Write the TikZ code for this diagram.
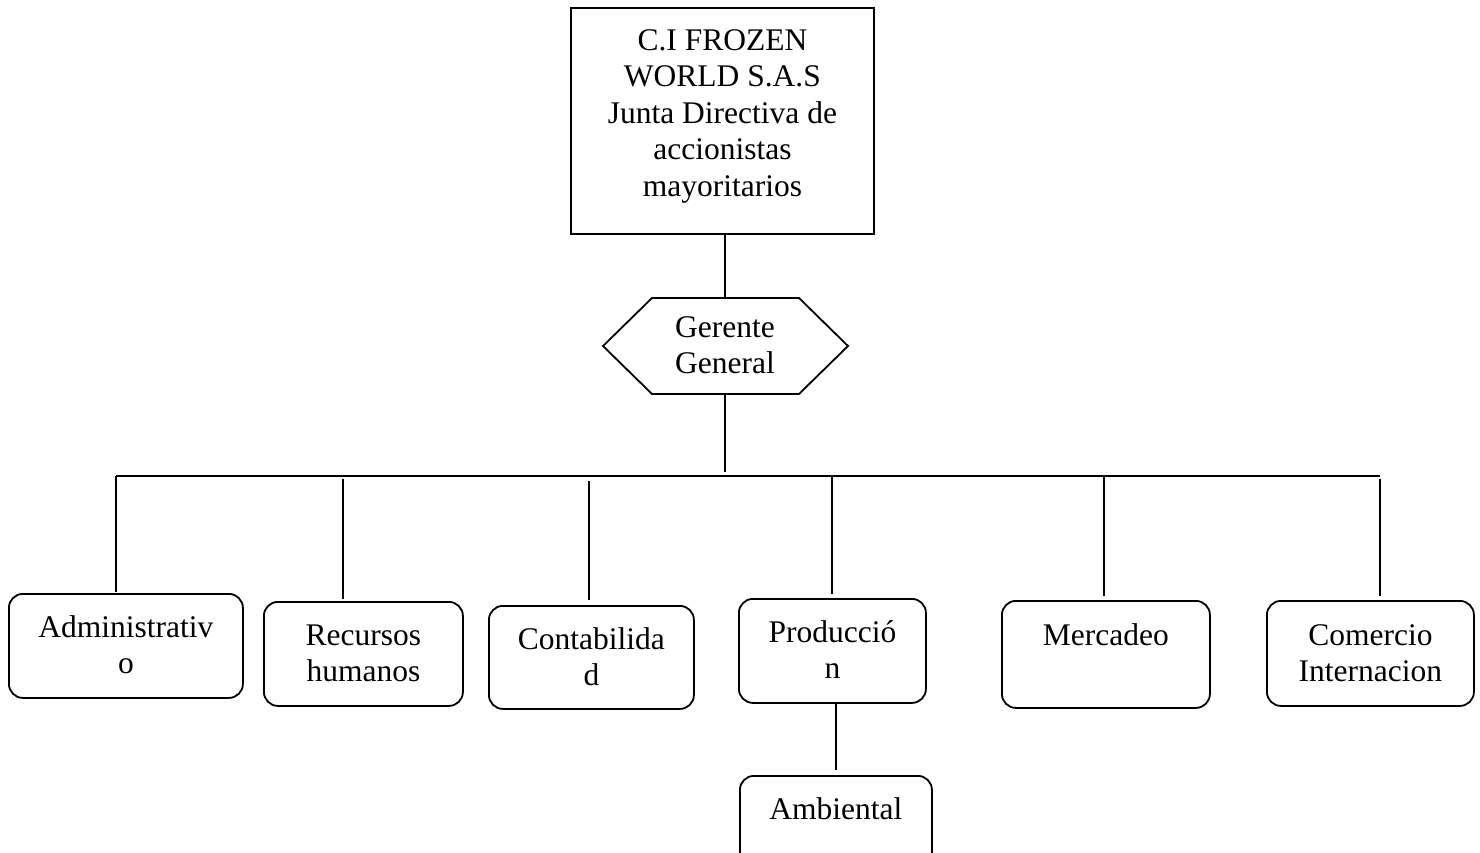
\documentclass[tikz,border=0pt]{standalone}
\usepackage{fontspec}
\setmainfont{Liberation Serif}
\usetikzlibrary{calc}
\newcommand{\tbl}[1]{\begin{tabular}[t]{@{}c@{}}#1\end{tabular}}
\begin{document}
\begin{tikzpicture}[x=1pt,y=-1pt,line width=1.8pt,
  box/.style={draw,rounded corners=14pt,inner sep=0pt,anchor=north west},
  sqbox/.style={draw,inner sep=0pt,anchor=north west},
  lbl/.style={anchor=base,inner sep=0pt,font=\fontsize{31.5}{36.5}\selectfont},
  conn/.style={line width=1.8pt}]
\useasboundingbox (0,0) rectangle (1480,852);
\clip (0,0) rectangle (1480,852);

% top box
\node[sqbox,minimum width=303pt,minimum height=226pt] (top) at (570,7) {};
\node[lbl] (topt) at ($(top.north)+(0,43)$) {\tbl{C.I FROZEN\\WORLD S.A.S\\Junta Directiva de\\accionistas\\mayoritarios}};

% hexagon
\coordinate (hexN) at (725,298);
\coordinate (hexS) at (725,394);
\draw (603,346) -- (652,298) -- (799,298) -- (848,346) -- (799,394) -- (652,394) -- cycle;
\node[lbl] (gg) at ($(hexN)+(0,39)$) {\tbl{Gerente\\General}};

% department boxes
\node[box,minimum width=234pt,minimum height=104pt] (adm) at (8,593) {};
\node[box,minimum width=199pt,minimum height=104pt] (rec) at (263,601) {};
\node[box,minimum width=205pt,minimum height=103pt] (cont) at (488,605) {};
\node[box,minimum width=187pt,minimum height=104pt] (prod) at (738,598) {};
\node[box,minimum width=208pt,minimum height=107pt] (merc) at (1001,600) {};
\node[box,minimum width=207pt,minimum height=105pt] (com) at (1266,600) {};
\node[box,minimum width=192pt,minimum height=104pt] (amb) at (739,775) {};

\node[lbl] (admt) at ($(adm.north)+(0,44)$) {\tbl{Administrativ\\o}};
\node[lbl] (rect) at ($(rec.north)+(0,44)$) {\tbl{Recursos\\humanos}};
\node[lbl] (contt) at ($(cont.north)+(0,44)$) {\tbl{Contabilida\\d}};
\node[lbl] (prodt) at ($(prod.north)+(0,44)$) {\tbl{Producció\\n}};
\node[lbl] (merct) at ($(merc.north)+(0,45)$) {\tbl{Mercadeo}};
\node[lbl] (comt) at ($(com.north)+(0,45)$) {\tbl{Comercio\\Internacion}};
\node[lbl] (ambt) at ($(amb.north)+(0,44)$) {\tbl{Ambiental}};

% connectors
\coordinate (gEnd) at (725,472);
\coordinate (busL) at (116,476);
\coordinate (busR) at (1380,476);
\coordinate (b1) at (116,476);
\coordinate (b2) at (343,479);
\coordinate (b3) at (589,481);
\coordinate (b4) at (832,476);
\coordinate (b5) at (1104,476);
\coordinate (b6) at (1380,479);

\draw[conn] (top.south -| hexN) -- (hexN);
\draw[conn] (hexS) -- (gEnd);
\draw[conn] (busL) -- (busR);
\draw[conn,shorten >=1pt] (b1) -- (b1 |- adm.north);
\draw[conn,shorten >=2pt] (b2) -- (b2 |- rec.north);
\draw[conn,shorten >=5pt] (b3) -- (b3 |- cont.north);
\draw[conn,shorten >=4pt] (b4) -- (b4 |- prod.north);
\draw[conn,shorten >=4pt] (b5) -- (b5 |- merc.north);
\draw[conn,shorten >=4pt] (b6) -- (b6 |- com.north);
\draw[conn,shorten >=5pt] (amb.north |- prod.south) -- (amb.north);
\end{tikzpicture}
\end{document}
